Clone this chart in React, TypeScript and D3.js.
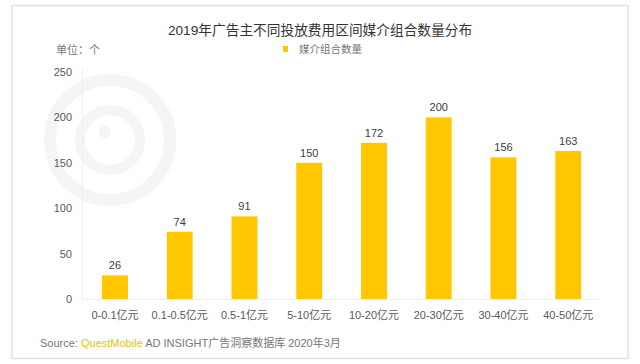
import React from "react";
import * as d3 from "d3";

const categories = ["0-0.1亿元", "0.1-0.5亿元", "0.5-1亿元", "5-10亿元", "10-20亿元", "20-30亿元", "30-40亿元", "40-50亿元"];
const values = [26, 74, 91, 150, 172, 200, 156, 163];
const yTicks = [0, 50, 100, 150, 200, 250];
const title = "2019年广告主不同投放费用区间媒介组合数量分布";
const seriesName = "媒介组合数量";
const unitLabel = "单位：个";

const W = 640;
const H = 364;
const FONT = "'Liberation Sans', Arial, 'Noto Sans CJK SC', sans-serif";
const BAR = "#FFC700";

export default function App() {
  const x = d3.scaleBand<string>().domain(categories).range([82.6, 600.6]).paddingInner(0.6).paddingOuter(0.3);
  const y = d3.scaleLinear().domain([0, 250]).range([299, 72]);

  return (
    <svg width={W} height={H} style={{ position: "absolute", left: 0, top: 0, background: "#fff" }} fontFamily={FONT}>
      <rect x={0} y={0} width={W} height={H} fill="#fff" />
      {/* frame */}
      <rect x={12} y={5.5} width={616} height={353} fill="none" stroke="#e2e2e2" strokeWidth={1.5} />
      {/* watermark logo */}
      <g opacity={0.035}>
        <circle cx={110} cy={140} r={60} fill="none" stroke="#000" strokeWidth={12} />
        <circle cx={110} cy={140} r={30} fill="none" stroke="#000" strokeWidth={10} />
        <circle cx={105} cy={132} r={6} fill="#000" />
      </g>
      {/* title */}
      <text x={320} y={35} textAnchor="middle" fontSize={13.7} fill="#333">{title}</text>
      {/* unit */}
      <text x={56} y={54} fontSize={11} fill="#777">{unitLabel}</text>
      {/* legend */}
      <rect x={283} y={46} width={5} height={6} fill={BAR} />
      <text x={299} y={53} fontSize={10.5} fill="#777">{seriesName}</text>
      {/* axes */}
      <line x1={82.5} x2={82.5} y1={y(250) - 4} y2={y(0)} stroke="#f0f0f0" />
      <line x1={82.5} x2={600.6} y1={y(0) + 0.5} y2={y(0) + 0.5} stroke="#eeeeee" />
      {yTicks.map((t) => (
        <text key={t} x={72} y={y(t) + 4} textAnchor="end" fontSize={11} fill="#595959">{t}</text>
      ))}
      {categories.map((c, i) => (
        <g key={c}>
          <rect x={x(c)!} y={y(values[i])} width={x.bandwidth()} height={y(0) - y(values[i])} fill={BAR} />
          <text x={x(c)! + x.bandwidth() / 2} y={y(values[i]) - 6} textAnchor="middle" fontSize={11} fill="#404040">{values[i]}</text>
          <text x={x(c)! + x.bandwidth() / 2} y={319} textAnchor="middle" fontSize={11} fill="#595959">{c}</text>
        </g>
      ))}
      {/* source */}
      <text x={40} y={347} fontSize={11} fill="#777">
        <tspan>Source: </tspan>
        <tspan fill="#E8C200">QuestMobile</tspan>
        <tspan> AD INSIGHT广告洞察数据库 2020年3月</tspan>
      </text>
    </svg>
  );
}
